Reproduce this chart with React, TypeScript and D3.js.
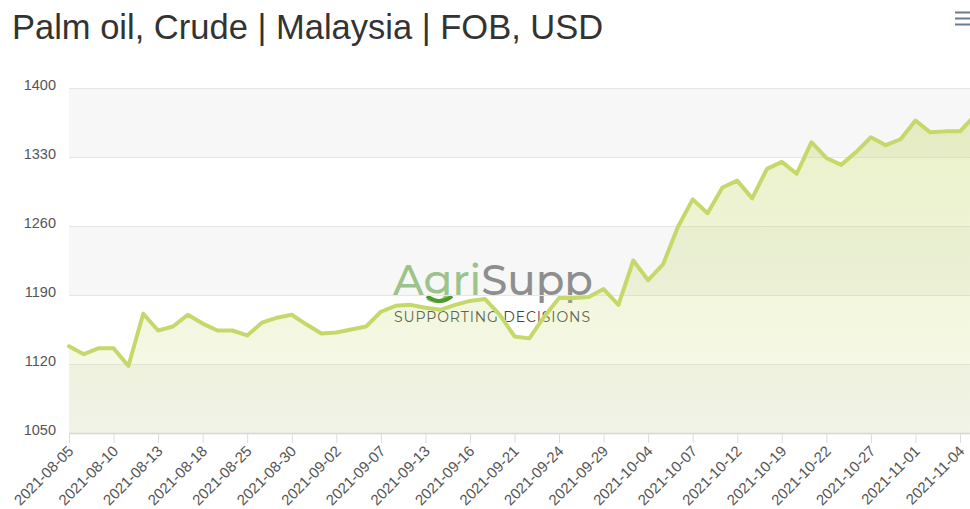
import { useRef, useEffect } from 'react'
import * as d3 from 'd3';

const chartTitle = "Palm oil, Crude | Malaysia | FOB, USD";

// business days on the category axis, only every third one is labelled
const dates = [
    "2021-08-05", "2021-08-06", "2021-08-09", "2021-08-10", "2021-08-11", "2021-08-12",
    "2021-08-13", "2021-08-16", "2021-08-17", "2021-08-18", "2021-08-19", "2021-08-23",
    "2021-08-25", "2021-08-26", "2021-08-27", "2021-08-30", "2021-08-31", "2021-09-01",
    "2021-09-02", "2021-09-03", "2021-09-06", "2021-09-07", "2021-09-09", "2021-09-10",
    "2021-09-13", "2021-09-14", "2021-09-15", "2021-09-16", "2021-09-17", "2021-09-20",
    "2021-09-21", "2021-09-22", "2021-09-23", "2021-09-24", "2021-09-27", "2021-09-28",
    "2021-09-29", "2021-09-30", "2021-10-01", "2021-10-04", "2021-10-05", "2021-10-06",
    "2021-10-07", "2021-10-08", "2021-10-11", "2021-10-12", "2021-10-14", "2021-10-18",
    "2021-10-19", "2021-10-20", "2021-10-21", "2021-10-22", "2021-10-25", "2021-10-26",
    "2021-10-27", "2021-10-28", "2021-10-29", "2021-11-01", "2021-11-02", "2021-11-03",
    "2021-11-04", "2021-11-05"
];

const prices = [
    1138, 1130, 1136, 1136, 1118, 1171,
    1154, 1158, 1170, 1161, 1154, 1154,
    1149, 1162, 1167, 1170, 1160, 1151,
    1152, 1155, 1158, 1173, 1179, 1180,
    1177, 1175, 1180, 1184, 1186, 1170,
    1148, 1146, 1168, 1187, 1187, 1188,
    1196, 1180, 1225, 1205, 1221, 1259,
    1287, 1273, 1299, 1306, 1288, 1318,
    1325, 1313, 1345, 1329, 1322, 1335,
    1350, 1342, 1348, 1367, 1355, 1356,
    1356, 1372
];

const yTicks = [1050, 1120, 1190, 1260, 1330, 1400];
const yBands = [[1050, 1120], [1190, 1260], [1330, 1400]];

function App() {

    const d3Container = useRef(null);

    const width = 970;
    const height = 509;

    useEffect(() => {

        const plotLeft = 69;
        const plotTop = 88;
        const plotBottom = 433;
        const step = 14.85;
        const plotRight = plotLeft + step * (dates.length - 1);
        const lineColor = "#c5d96b";
        const labelColor = "#555555";

        const svg = d3.select(d3Container.current);
        svg.selectAll("*").remove();

        const x = d3.scalePoint()
                    .domain(dates)
                    .range([plotLeft, plotRight]);

        const y = d3.scaleLinear()
                    .domain([1050, 1400])
                    .range([plotBottom, plotTop]);

        // gradient for the area under the line
        const grad = svg.append("defs")
                        .append("linearGradient")
                        .attr("id", "areaGrad")
                        .attr("gradientUnits", "userSpaceOnUse")
                        .attr("x1", 0).attr("x2", 0)
                        .attr("y1", plotTop).attr("y2", plotBottom);
        grad.append("stop").attr("offset", 0).attr("stop-color", lineColor).attr("stop-opacity", 0.4);
        grad.append("stop").attr("offset", 1).attr("stop-color", lineColor).attr("stop-opacity", 0.12);

        // title
        svg.append("text")
           .attr("x", 12)
           .attr("y", 39)
           .attr("fill", "#333333")
           .attr("font-size", 34.5)
           .text(chartTitle);

        // export menu icon
        svg.append("g")
           .attr("stroke", "#6b7b8f")
           .attr("stroke-width", 2)
           .selectAll("line")
           .data([12.5, 18.5, 24.5])
           .join("line")
           .attr("x1", 955).attr("x2", 970)
           .attr("y1", (d) => d).attr("y2", (d) => d);

        // alternate grid bands
        svg.append("g")
           .attr("fill", "#f7f7f7")
           .selectAll("rect")
           .data(yBands)
           .join("rect")
           .attr("x", plotLeft)
           .attr("width", plotRight - plotLeft)
           .attr("y", (d) => y(d[1]))
           .attr("height", (d) => y(d[0]) - y(d[1]));

        // watermark logo
        const logo = svg.append("g").attr("font-family", "Montserrat, 'Open Sans', Lato, sans-serif");
        const word = logo.append("text")
                         .attr("x", 393)
                         .attr("y", 295)
                         .attr("font-size", 42)
                         .attr("font-weight", 500)
                         .attr("textLength", 200)
                         .attr("lengthAdjust", "spacingAndGlyphs");
        word.append("tspan").attr("fill", "#9cc38c").text("Agri");
        word.append("tspan").attr("fill", "#8e8e8e").text("Supp");
        logo.append("path")
            .attr("d", "M427,296 Q440,306 452,296")
            .attr("fill", "none")
            .attr("stroke", "#4b9a2c")
            .attr("stroke-width", 4);
        logo.append("text")
            .attr("x", 394)
            .attr("y", 322)
            .attr("font-size", 14)
            .attr("fill", "#444444")
            .attr("textLength", 196)
            .attr("lengthAdjust", "spacing")
            .text("SUPPORTING DECISIONS");

        // horizontal grid lines
        svg.append("g")
           .attr("stroke", "#e6e6e6")
           .selectAll("line")
           .data(yTicks.slice(1))
           .join("line")
           .attr("x1", plotLeft).attr("x2", plotRight)
           .attr("y1", (d) => Math.round(y(d)) + 0.5)
           .attr("y2", (d) => Math.round(y(d)) + 0.5);

        // area + line
        const area = d3.area()
                       .x((d, i) => x(dates[i]))
                       .y0(plotBottom)
                       .y1((d) => y(d));

        const line = d3.line()
                       .x((d, i) => x(dates[i]))
                       .y((d) => y(d));

        svg.append("path")
           .datum(prices)
           .attr("fill", "url(#areaGrad)")
           .attr("d", area);

        svg.append("path")
           .datum(prices)
           .attr("fill", "none")
           .attr("stroke", lineColor)
           .attr("stroke-width", 4)
           .attr("stroke-linejoin", "round")
           .attr("stroke-linecap", "round")
           .attr("d", line);

        // x axis
        const xAxis = d3.axisBottom(x)
                        .tickValues(dates.filter((d, i) => i % 3 === 0))
                        .tickSizeInner(10)
                        .tickSizeOuter(0)
                        .tickPadding(0);

        svg.append("g")
           .attr("transform", `translate(0,${plotBottom})`)
           .call(xAxis)
           .call((g) => g.select(".domain").attr("stroke", "#d6d6d6").attr("stroke-width", 1.5))
           .call((g) => g.selectAll(".tick line").attr("stroke", "#dcdcdc"))
           .call((g) => g.selectAll(".tick text")
                         .attr("fill", labelColor)
                         .attr("font-size", 15)
                         .attr("font-family", "'Liberation Sans', Arial, sans-serif")
                         .attr("text-anchor", "end")
                         .attr("dy", null)
                         .attr("y", null)
                         .attr("transform", "translate(5,19) rotate(-45)"));

        // y axis
        const yAxis = d3.axisLeft(y)
                        .tickValues(yTicks)
                        .tickFormat(d3.format("d"))
                        .tickSize(0)
                        .tickPadding(0);

        svg.append("g")
           .attr("transform", `translate(56,0)`)
           .call(yAxis)
           .call((g) => g.select(".domain").remove())
           .call((g) => g.selectAll(".tick text")
                         .attr("fill", labelColor)
                         .attr("font-size", 14.5)
                         .attr("font-family", "'Liberation Sans', Arial, sans-serif")
                         .attr("dy", "0.1em"));

    }, []);

    return (
        <svg ref={d3Container}
             width={width}
             height={height}
             style={{ position: "absolute", left: 0, top: 0, fontFamily: "'Liberation Sans', Arial, sans-serif" }} />
    )
}

export default App;
